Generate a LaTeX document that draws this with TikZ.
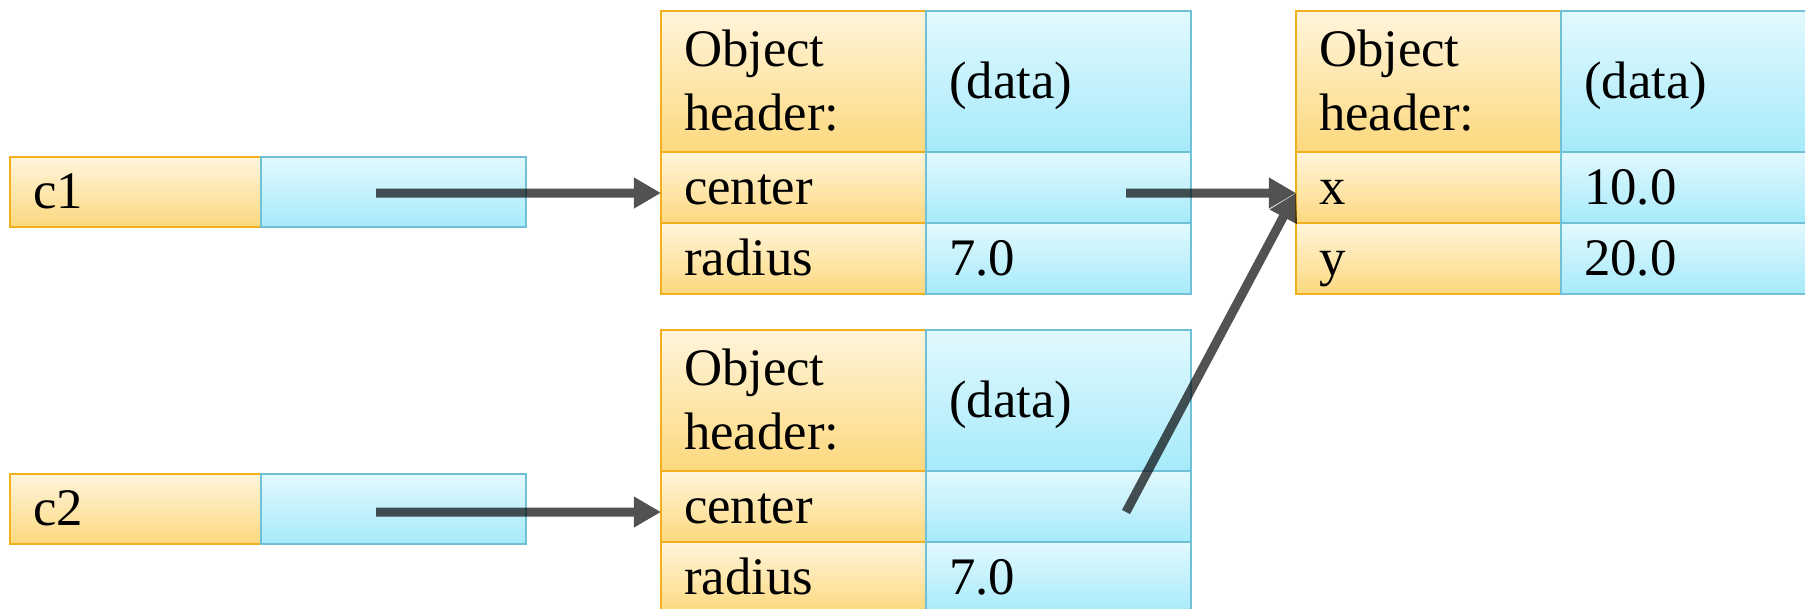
\documentclass[tikz,border=0pt]{standalone}
\usepackage{fontspec}
\setmainfont{Liberation Serif}
\usetikzlibrary{arrows.meta, positioning}
\definecolor{keytop}{RGB}{255,245,220}
\definecolor{keybot}{RGB}{253,216,125}
\definecolor{keyline}{RGB}{243,176,30}
\definecolor{valtop}{RGB}{226,249,254}
\definecolor{valbot}{RGB}{166,234,250}
\definecolor{valline}{RGB}{112,192,214}
\newcommand{\cellstrut}{\rule[-3pt]{0pt}{15.6pt}}
\tikzstyle{pointer} = [-{Triangle[length=0.27cm, width=0.29cm]}, line width=0.09cm, draw=black]
\tikzset{
    cell/.style={anchor=north west, outer sep=0pt, inner xsep=0.23cm, inner ysep=0pt, align=left, line width=0.6pt,
        font=\fontsize{15}{18}\selectfont, execute at begin node=\cellstrut, execute at end node=\cellstrut},
    keycell/.style={cell, draw=keyline, top color=keytop, bottom color=keybot, text width=2.19cm, minimum height=0.71cm},
    valcell/.style={cell, draw=valline, top color=valtop, bottom color=valbot, text width=2.19cm, minimum height=0.71cm},
    header/.style={minimum height=1.41cm}
}

\begin{document}
\begin{tikzpicture}[x=0.01cm, y=-0.01cm]
    \useasboundingbox (0,0) rectangle (1805,608);

    % Variables
    \node[keycell, text width=2.05cm, minimum height=0.70cm] (c1name) at (10,157) {c1};
    \node[valcell, minimum height=0.70cm, right=0pt of c1name] (c1val) {};
    \node[keycell, text width=2.05cm, minimum height=0.70cm] (c2name) at (10,474) {c2};
    \node[valcell, minimum height=0.70cm, right=0pt of c2name] (c2val) {};

    % First circle object
    \node[keycell, header] (obj1hdr) at (661,11) {Object\\header:};
    \node[valcell, header, right=0pt of obj1hdr] (obj1data) {(data)};
    \node[keycell, below=0pt of obj1hdr] (obj1center) {center};
    \node[valcell, right=0pt of obj1center] (obj1centerval) {};
    \node[keycell, below=0pt of obj1center] (obj1radius) {radius};
    \node[valcell, right=0pt of obj1radius] (obj1radiusval) {7.0};

    % Second circle object
    \node[keycell, header] (obj2hdr) at (661,330) {Object\\header:};
    \node[valcell, header, right=0pt of obj2hdr] (obj2data) {(data)};
    \node[keycell, below=0pt of obj2hdr] (obj2center) {center};
    \node[valcell, right=0pt of obj2center] (obj2centerval) {};
    \node[keycell, below=0pt of obj2center] (obj2radius) {radius};
    \node[valcell, right=0pt of obj2radius] (obj2radiusval) {7.0};

    % Point object
    \node[keycell, header] (pthdr) at (1296,11) {Object\\header:};
    \node[valcell, header, right=0pt of pthdr] (ptdata) {(data)};
    \node[keycell, below=0pt of pthdr] (ptx) {x};
    \node[valcell, right=0pt of ptx] (ptxval) {10.0};
    \node[keycell, below=0pt of ptx] (pty) {y};
    \node[valcell, right=0pt of pty] (ptyval) {20.0};

    % References
    \coordinate (c1ref) at (376,193);
    \coordinate (c2ref) at (376,512);
    \coordinate (obj1ref) at (1126,193);
    \coordinate (obj2ref) at (1126,512);

    \begin{scope}[transparency group, opacity=0.68]
        \draw[pointer] (c1ref) -- (c1ref -| obj1center.west);
        \draw[pointer] (c2ref) -- (c2ref -| obj2center.west);
        \draw[pointer] (obj1ref) -- (obj1ref -| ptx.west);
        \draw[pointer] (obj2ref) -- (obj1ref -| ptx.west);
    \end{scope}

\end{tikzpicture}
\end{document}
